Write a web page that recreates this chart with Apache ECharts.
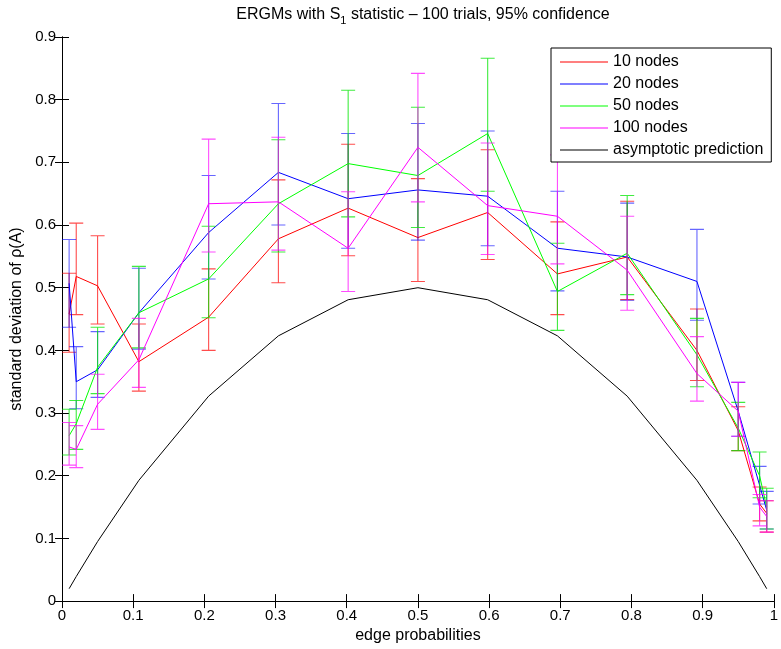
<!DOCTYPE html>
<html><head><meta charset="utf-8">
<script src="https://cdn.jsdelivr.net/npm/echarts@6/dist/echarts.min.js"></script>
<style>html,body{margin:0;padding:0;background:#fff}#c{width:781px;height:649px}</style>
</head><body><div id="c"></div>
<script>
// edge probabilities (x positions of all points)
const edgeProbs = [0.01, 0.02, 0.05, 0.108, 0.206, 0.304, 0.402, 0.5, 0.598, 0.696, 0.794, 0.892, 0.95, 0.98, 0.99];

const seriesNames = ['10 nodes', '20 nodes', '50 nodes', '100 nodes', 'asymptotic prediction'];

// 10 nodes
const mean10 = [0.458, 0.518, 0.503, 0.382, 0.453, 0.578, 0.627, 0.580, 0.620, 0.522, 0.549, 0.400, 0.272, 0.155, 0.140];
const lo10   = [0.397, 0.457, 0.442, 0.335, 0.400, 0.508, 0.551, 0.510, 0.545, 0.457, 0.481, 0.352, 0.240, 0.128, 0.110];
const hi10   = [0.523, 0.603, 0.583, 0.442, 0.530, 0.672, 0.729, 0.674, 0.720, 0.605, 0.638, 0.466, 0.310, 0.182, 0.160];
// 20 nodes
const mean20 = [0.507, 0.350, 0.369, 0.460, 0.588, 0.684, 0.642, 0.656, 0.646, 0.563, 0.549, 0.510, 0.303, 0.185, 0.145];
const lo20   = [0.437, 0.307, 0.325, 0.402, 0.514, 0.600, 0.563, 0.576, 0.567, 0.495, 0.480, 0.448, 0.263, 0.155, 0.115];
const hi20   = [0.577, 0.406, 0.430, 0.531, 0.679, 0.794, 0.746, 0.762, 0.750, 0.654, 0.635, 0.593, 0.349, 0.215, 0.175];
// 50 nodes
const mean50 = [0.264, 0.283, 0.373, 0.460, 0.514, 0.634, 0.698, 0.679, 0.746, 0.494, 0.555, 0.393, 0.276, 0.200, 0.150];
const lo50   = [0.233, 0.242, 0.331, 0.404, 0.452, 0.557, 0.613, 0.596, 0.654, 0.432, 0.489, 0.342, 0.240, 0.165, 0.115];
const hi50   = [0.306, 0.320, 0.437, 0.534, 0.598, 0.736, 0.815, 0.788, 0.866, 0.571, 0.647, 0.451, 0.317, 0.238, 0.180];
// 100 nodes
const mean100 = [0.246, 0.242, 0.314, 0.385, 0.634, 0.637, 0.563, 0.724, 0.631, 0.614, 0.528, 0.363, 0.303, 0.150, 0.135];
const lo100   = [0.217, 0.213, 0.274, 0.341, 0.557, 0.560, 0.494, 0.637, 0.553, 0.538, 0.464, 0.319, 0.263, 0.120, 0.110];
const hi100   = [0.285, 0.280, 0.362, 0.451, 0.737, 0.740, 0.653, 0.842, 0.731, 0.712, 0.614, 0.422, 0.349, 0.170, 0.160];
// asymptotic prediction
const asymptotic = [0.0198, 0.0392, 0.095, 0.1927, 0.327, 0.4232, 0.4808, 0.5, 0.4808, 0.4232, 0.327, 0.1927, 0.095, 0.0392, 0.0198];

const xTickLabels = ['0', '0.1', '0.2', '0.3', '0.4', '0.5', '0.6', '0.7', '0.8', '0.9', '1'];
const yTickLabels = ['0', '0.1', '0.2', '0.3', '0.4', '0.5', '0.6', '0.7', '0.8', '0.9'];

const colors = ['#ff0000', '#0000ff', '#00ff00', '#ff00ff', '#000000'];
const barColors = ['rgba(255,0,0,0.7)', 'rgba(0,0,255,0.6)', 'rgba(0,230,0,0.75)', 'rgba(255,0,255,0.7)'];
const FONT = "'Liberation Sans', Arial, Helvetica, sans-serif";

const groups = [
  {mean: mean10, lo: lo10, hi: hi10},
  {mean: mean20, lo: lo20, hi: hi20},
  {mean: mean50, lo: lo50, hi: hi50},
  {mean: mean100, lo: lo100, hi: hi100}
];

function errRender(color) {
  return function (params, api) {
    const x = api.value(0);
    const pLo = api.coord([x, api.value(1)]);
    const pHi = api.coord([x, api.value(2)]);
    const cx = pLo[0];
    const yl = pLo[1];
    const yh = pHi[1];
    const w = 7;
    const d = 'M' + cx + ',' + yl + 'L' + cx + ',' + yh +
              'M' + (cx - w) + ',' + yl + 'L' + (cx + w) + ',' + yl +
              'M' + (cx - w) + ',' + yh + 'L' + (cx + w) + ',' + yh;
    return {
      type: 'path',
      shape: {pathData: d},
      style: {stroke: color, fill: 'none', lineWidth: 1.1}
    };
  };
}

const series = [];
groups.forEach((g, k) => {
  series.push({
    type: 'custom',
    name: seriesNames[k] + ' err',
    renderItem: errRender(barColors[k]),
    data: edgeProbs.map((x, i) => [x, g.lo[i], g.hi[i]]),
    color: barColors[k],
    itemStyle: {color: barColors[k]},
    z: 2 + k * 2,
    silent: true,
    clip: false
  });
  series.push({
    type: 'line',
    name: seriesNames[k],
    data: edgeProbs.map((x, i) => [x, g.mean[i]]),
    showSymbol: false,
    symbol: 'none',
    color: colors[k],
    itemStyle: {color: colors[k]},
    lineStyle: {color: colors[k], width: 1},
    z: 3 + k * 2
  });
});
series.push({
  type: 'line',
  name: seriesNames[4],
  data: edgeProbs.map((x, i) => [x, asymptotic[i]]),
  showSymbol: false,
  symbol: 'none',
  color: colors[4],
  itemStyle: {color: colors[4]},
  lineStyle: {color: colors[4], width: 1},
  z: 11
});

const axisCommon = {
  axisLine: {show: true, lineStyle: {color: '#000', width: 1}},
  axisTick: {show: true, inside: true, length: 7, lineStyle: {color: '#000'}},
  splitLine: {show: false}
};

const chart = echarts.init(document.getElementById('c'), null, {renderer: 'canvas'});
chart.setOption({
  animation: false,
  backgroundColor: '#fff',
  title: {
    text: 'ERGMs with S{sub|1} statistic \u2013 100 trials, 95% confidence',
    left: 423, top: 4, textAlign: 'center', padding: 0,
    textStyle: {
      fontFamily: FONT, fontSize: 16, fontWeight: 'normal', color: '#000', lineHeight: 22,
      rich: {sub: {fontFamily: FONT, fontSize: 11, lineHeight: 10, verticalAlign: 'bottom', color: '#000'}}
    }
  },
  legend: {
    data: seriesNames,
    orient: 'vertical',
    left: 551, top: 48,
    padding: [6, 8, 4, 9],
    itemWidth: 48, itemHeight: 1, itemGap: 6,
    icon: 'rect',
    borderColor: '#000', borderWidth: 1, backgroundColor: '#fff',
    textStyle: {fontFamily: FONT, fontSize: 16, color: '#000', lineHeight: 14},
    z: 20
  },
  grid: {left: 62, right: 5, top: 37, bottom: 45, containLabel: false},
  xAxis: [
    Object.assign({
      type: 'value', min: 0, max: 1, interval: 0.1, position: 'bottom',
      name: 'edge probabilities', nameLocation: 'middle', nameGap: 22,
      nameTextStyle: {fontFamily: FONT, fontSize: 16, color: '#000'},
      axisLabel: {fontFamily: FONT, fontSize: 15, color: '#000', margin: 7,
        formatter: v => xTickLabels[Math.round(v * 10)]}
    }, axisCommon),
    Object.assign({
      type: 'value', min: 0, max: 1, interval: 0.1, position: 'top',
      axisLabel: {show: false}
    }, axisCommon)
  ],
  yAxis: [
    Object.assign({
      type: 'value', min: 0, max: 0.9, interval: 0.1, position: 'left',
      name: 'standard deviation of \u03c1(A)', nameLocation: 'middle', nameGap: 36, nameRotate: 90,
      nameTextStyle: {fontFamily: FONT, fontSize: 16, color: '#000'},
      axisLabel: {fontFamily: FONT, fontSize: 15, color: '#000', margin: 6,
        formatter: v => yTickLabels[Math.round(v * 10)]}
    }, axisCommon),
    Object.assign({
      type: 'value', min: 0, max: 0.9, interval: 0.1, position: 'right',
      axisLabel: {show: false}
    }, axisCommon)
  ],
  series: series
});
</script>
</body></html>
